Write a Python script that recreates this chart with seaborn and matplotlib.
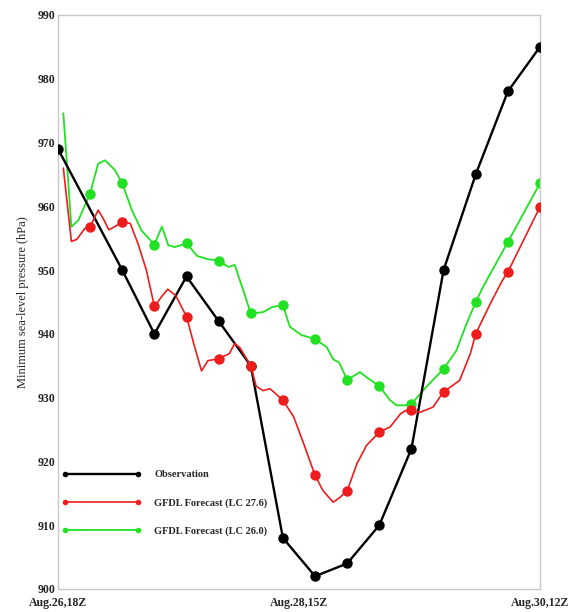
import matplotlib
matplotlib.use("Agg")
import matplotlib.pyplot as plt
from matplotlib.lines import Line2D
import pandas as pd
import seaborn as sns

# Forecast hours from Aug.26,18Z
obs_hours = [0, 12, 18, 24, 30, 36, 42, 48, 54, 60, 66, 72, 78, 84, 90]
obs_pres = [969, 950, 940, 949, 942, 935, 908, 902, 904, 910, 922, 950, 965, 978, 985]

lc276_hours = [1, 2.5, 3.5, 5, 6, 7.5, 8.5, 9.5, 11, 12, 13.5, 15, 16.5, 18, 19.5,
               20.5, 22, 24, 25.5, 26.8, 28, 30, 32, 33, 34, 36, 37, 38.3, 39.6, 42,
               44, 46, 48, 49.5, 51.4, 52.7, 54, 55.8, 57.6, 60, 62, 64, 65, 66,
               67.6, 70, 72, 75, 77, 78, 80.7, 83, 84, 90]
lc276_pres = [966, 954.5, 954.8, 956.5, 956.8, 959.4, 958, 956.3, 957, 957.6, 957.3,
              954, 950, 944.3, 946, 947, 946, 942.7, 938, 934.2, 935.8, 936.1, 936.9,
              938.5, 937.8, 935, 931.8, 931.1, 931.4, 929.6, 927, 922.5, 917.8, 915.4,
              913.6, 914.4, 915.4, 919.6, 922.5, 924.6, 925.4, 927.5, 928, 928, 927.7,
              928.5, 930.9, 932.7, 936.9, 940, 944.7, 948.4, 949.7, 959.9]

lc240_hours = [1, 2.5, 3.8, 6, 7.5, 8.8, 10.6, 12, 13.8, 15.6, 18, 19.4, 20.6, 21.8,
               24, 26, 28, 30, 31.8, 33, 34.6, 36, 38.3, 40, 42, 43.3, 45.5, 48, 50.2,
               51.4, 52.5, 54, 56.4, 57.6, 60, 62, 63.2, 65, 66, 68.8, 72, 74.4, 76.3,
               78, 79.4, 84, 90]
lc240_pres = [974.6, 956.8, 957.8, 962, 966.7, 967.2, 965.7, 963.6, 959.4, 956.2, 954,
              956.8, 953.9, 953.6, 954.2, 952.2, 951.7, 951.5, 950.5, 950.8, 946.8, 943.2,
              943.4, 944.2, 944.5, 941.1, 939.8, 939.2, 937.9, 936, 935.5, 932.8, 934,
              933.2, 931.8, 929.6, 928.8, 928.8, 929, 931.7, 934.5, 937.4, 941.6, 945,
              947.4, 954.4, 963.6]

labels = ["Observation", "GFDL Forecast (LC 27.6)", "GFDL Forecast (LC 26.0)"]
xtick_pos = [0, 45, 90]
xtick_labels = ["Aug.26,18Z", "Aug.28,15Z", "Aug.30,12Z"]
ytick_vals = list(range(900, 1000, 10))

sns.set_style("white")
plt.rcParams["font.family"] = ["Liberation Serif", "DejaVu Serif"]

fig = plt.figure(figsize=(5.81, 6.12), dpi=100)
ax = fig.add_axes([0.0998, 0.0376, 0.8296, 0.938])


def six_hourly(hours):
    return [i for i, h in enumerate(hours) if float(h) % 6 == 0]


green = "#22e022"
red = "#ee1c1c"

df_g = pd.DataFrame({"hour": lc240_hours, "pres": lc240_pres})
df_r = pd.DataFrame({"hour": lc276_hours, "pres": lc276_pres})
df_o = pd.DataFrame({"hour": obs_hours, "pres": obs_pres})

sns.lineplot(data=df_g, x="hour", y="pres", ax=ax, color=green, lw=1.3,
             marker="o", markersize=7.5, markeredgewidth=0,
             markevery=six_hourly(lc240_hours), sort=False, estimator=None,
             legend=False, zorder=2)
sns.lineplot(data=df_o, x="hour", y="pres", ax=ax, color="black", lw=1.7,
             marker="o", markersize=7.5, markeredgewidth=0,
             sort=False, estimator=None, legend=False, zorder=3)
sns.lineplot(data=df_r, x="hour", y="pres", ax=ax, color=red, lw=1.2,
             marker="o", markersize=7.5, markeredgewidth=0,
             markevery=six_hourly(lc276_hours), sort=False, estimator=None,
             legend=False, zorder=4)

ax.set_xlim(0, 90)
ax.set_ylim(900, 990)
ax.set_xticks(xtick_pos)
ax.set_xticklabels(xtick_labels, fontsize=8.5, fontweight="bold")
ax.set_yticks(ytick_vals)
ax.set_yticklabels([str(v) for v in ytick_vals], fontsize=8.5, fontweight="bold")
ax.tick_params(axis="both", direction="in", length=3, color="#bbbbbb", pad=2)
ax.tick_params(axis="x", pad=6)
ax.set_xlabel("")
ax.set_ylabel("Minimum sea-level pressure (hPa)", fontsize=9, labelpad=6)
for s in ax.spines.values():
    s.set_color("#c8c8c8")
    s.set_linewidth(1.0)

# Legend in the lower left, drawn beneath the data lines
leg_handles = [Line2D([], [], color=c, lw=lw, marker="o", markersize=4,
                      markeredgewidth=0)
               for c, lw in [("black", 1.7), (red, 1.2), (green, 1.3)]]
leg = ax.legend(leg_handles, labels, loc="lower left",
                bbox_to_anchor=(0.0, 0.085), frameon=False, numpoints=2,
                borderaxespad=0.0, handlelength=7.6, handletextpad=1.25,
                labelspacing=1.8,
                prop={"family": "Liberation Serif", "weight": "bold", "size": 7.5})
leg.set_zorder(1)

fig.savefig("out.png", dpi=100)
